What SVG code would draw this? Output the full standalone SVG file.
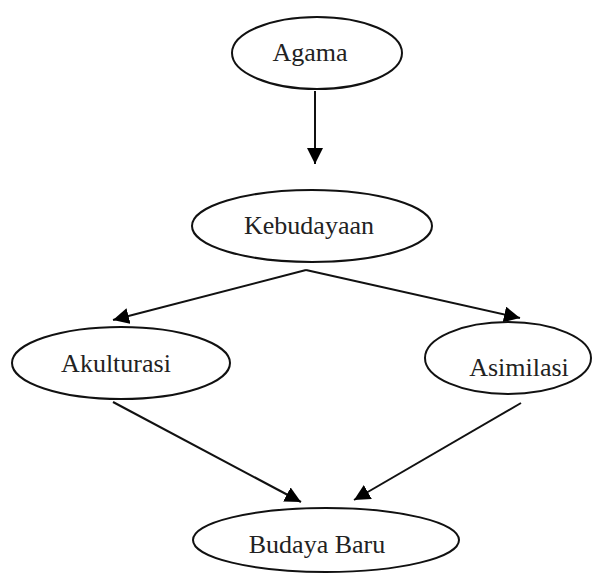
<svg xmlns="http://www.w3.org/2000/svg" width="607" height="576" viewBox="0 0 607 576">
<style>
.node ellipse{fill:#fff;stroke:#111;stroke-width:2}
.node text{font-family:"Liberation Serif","Times New Roman",serif;font-size:26px;fill:#222;text-anchor:middle}
.conn line{stroke:#111;stroke-width:2;fill:none;marker-end:url(#ah)}
</style>
<defs>
<marker id="ah" markerUnits="userSpaceOnUse" markerWidth="18" markerHeight="16" refX="16" refY="8" orient="auto">
<path d="M0,0 L16,8 L0,16 Z" fill="#000"/>
</marker>
</defs>
<rect width="607" height="576" fill="#fff"/>
<g id="connectors" class="conn">
<line x1="315" y1="91" x2="315" y2="164"/>
<line x1="306" y1="270" x2="113" y2="320"/>
<line x1="306" y1="270" x2="520" y2="318"/>
<line x1="113" y1="402" x2="301" y2="502"/>
<line x1="521" y1="403" x2="354" y2="500"/>
</g>
<g id="agama" class="node"><ellipse cx="317" cy="53" rx="85" ry="36"/><text x="310" y="61">Agama</text></g>
<g id="kebudayaan" class="node"><ellipse cx="312" cy="226" rx="120" ry="36"/><text x="309" y="234">Kebudayaan</text></g>
<g id="akulturasi" class="node"><ellipse cx="121" cy="363" rx="109" ry="36"/><text x="116" y="372">Akulturasi</text></g>
<g id="asimilasi" class="node"><ellipse cx="508" cy="358" rx="83" ry="36"/><text x="519" y="376">Asimilasi</text></g>
<g id="budaya-baru" class="node"><ellipse cx="326" cy="540" rx="133" ry="32"/><text x="317" y="553">Budaya Baru</text></g>
</svg>
